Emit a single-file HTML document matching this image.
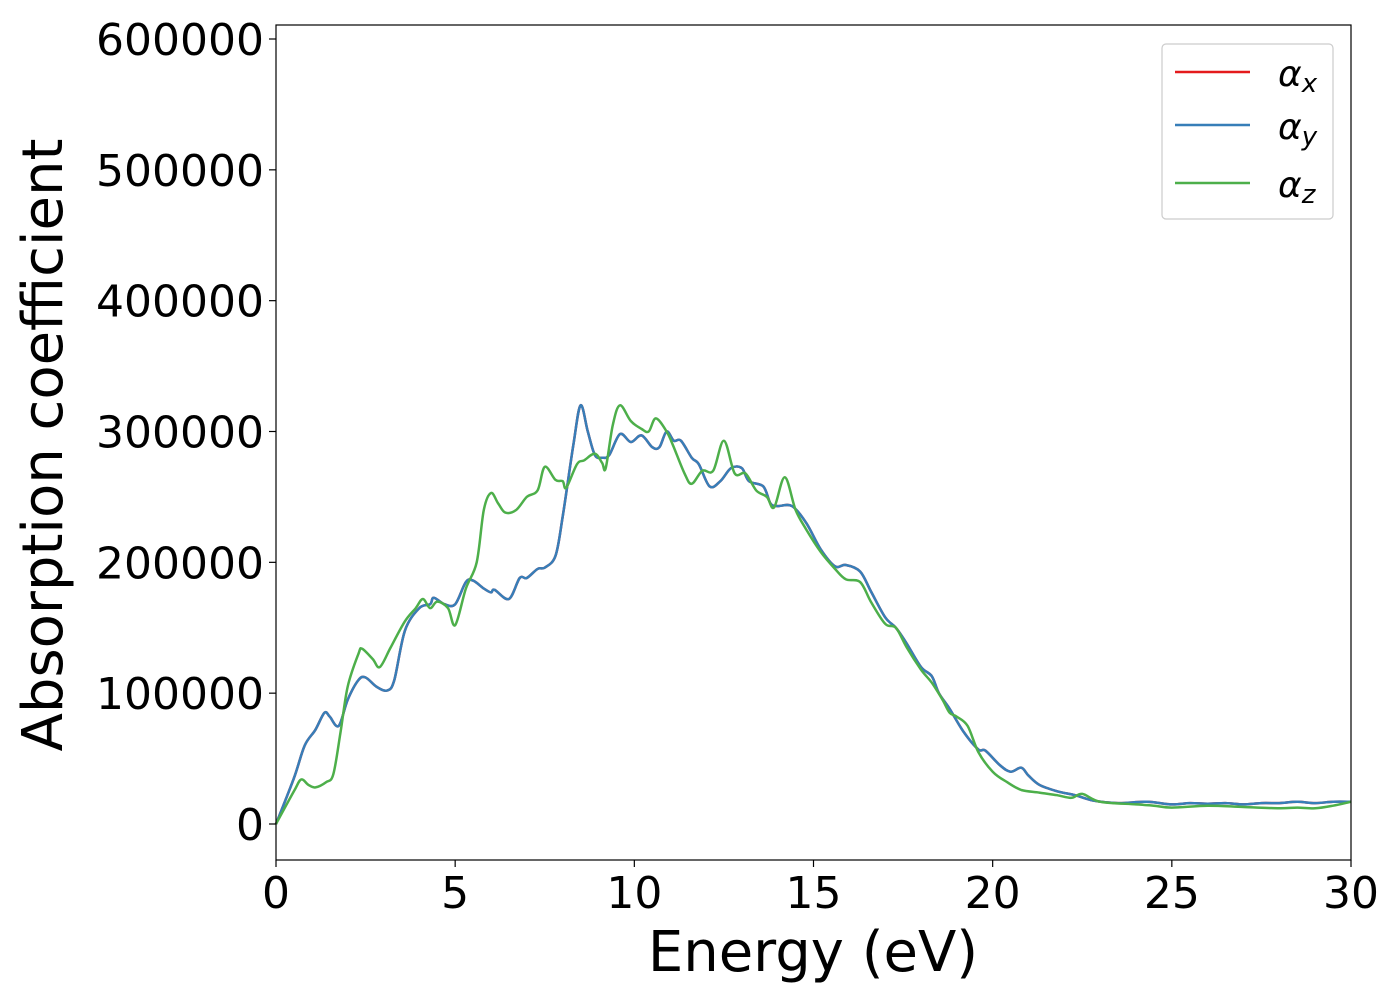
<!DOCTYPE html>
<html><head><meta charset="utf-8"><style>
html,body{margin:0;padding:0;background:#fff;}
svg text{font-family:"DejaVu Sans","Liberation Sans",sans-serif;}
</style></head><body>
<svg id="chart" width="1400" height="1000" xmlns="http://www.w3.org/2000/svg">
<rect x="0" y="0" width="1400" height="1000" fill="#fff"/>
<g id="series"></g>
<rect x="276" y="25" width="1075" height="835" fill="none" stroke="#000" stroke-width="1.2"/>
<g id="xticks"></g>
<g id="yticks"></g>
<text x="813" y="971" font-size="56" text-anchor="middle">Energy (eV)</text>
<text transform="translate(62,445) rotate(-90)" font-size="56" text-anchor="middle">Absorption coefficient</text>
<g>
<rect x="1162" y="44" width="171" height="175" rx="4" fill="#fff" stroke="#ccc" stroke-width="1.2"/>
<g>
<line x1="1175" y1="72" x2="1250" y2="72" stroke="#e41a1c" stroke-width="2.5"/>
<text x="1278" y="86" font-size="36" font-style="italic">α<tspan font-size="26" dy="6">x</tspan></text></g>
<g>
<line x1="1175" y1="125" x2="1250" y2="125" stroke="#377eb8" stroke-width="2.5"/>
<text x="1278" y="139" font-size="36" font-style="italic">α<tspan font-size="26" dy="6">y</tspan></text></g>
<g>
<line x1="1175" y1="183" x2="1250" y2="183" stroke="#4daf4a" stroke-width="2.5"/>
<text x="1278" y="197" font-size="36" font-style="italic">α<tspan font-size="26" dy="6">z</tspan></text></g>
</g>
</svg>
<script>
const xyEnergy=[0,0.5,0.8,1.1,1.35,1.5,1.75,2.0,2.3,2.5,2.8,3.1,3.3,3.6,4.0,4.3,4.4,4.7,5.0,5.3,5.5,5.8,6.0,6.1,6.5,6.8,7.0,7.3,7.5,7.8,8.0,8.3,8.5,8.7,8.9,9.1,9.3,9.6,9.9,10.2,10.5,10.7,10.9,11.1,11.3,11.6,11.8,12.1,12.4,12.7,13.0,13.2,13.6,13.8,14.0,14.4,14.8,15.2,15.6,15.9,16.3,16.6,17.0,17.3,17.6,18.0,18.3,18.5,18.8,19.2,19.6,19.8,20.2,20.5,20.8,21.0,21.3,21.8,22.3,22.8,23.5,24.3,25.0,25.5,26.0,26.5,27.0,27.5,28.0,28.5,29.0,29.5,30.0];
const alphaX=[0,35,60,72,85,82,75,95,110,112,105,102,110,148,165,168,173,168,168,185,186,180,177,179,172,188,188,195,196,205,235,290,320,300,282,280,282,298,292,297,288,288,300,293,293,280,275,258,262,272,272,262,258,245,243,243,230,210,197,198,193,178,158,150,138,120,113,100,88,70,57,56,45,40,43,37,30,25,22,18,16,17,15,16,15.5,16,15,16,16,17,16,17,17];
const alphaY=alphaX.slice();
const zEnergy=[0,0.5,0.7,0.9,1.1,1.4,1.6,1.8,2.0,2.3,2.4,2.7,2.9,3.2,3.6,3.9,4.1,4.3,4.5,4.8,5.0,5.3,5.6,5.8,6.0,6.2,6.4,6.7,7.0,7.3,7.5,7.8,8.0,8.1,8.4,8.6,8.9,9.1,9.2,9.4,9.6,9.9,10.2,10.4,10.6,10.9,11.1,11.4,11.6,11.9,12.2,12.5,12.8,13.1,13.4,13.7,13.9,14.2,14.5,14.8,15.2,15.6,15.9,16.3,16.6,17.0,17.3,17.6,18.0,18.3,18.6,18.8,19.0,19.3,19.6,20.0,20.4,20.8,21.3,21.8,22.2,22.5,23.0,24.0,24.5,25.0,26.0,27.0,28.0,28.5,29.0,29.5,30.0];
const alphaZ=[0,25,34,30,28,32,38,70,105,130,134,126,120,135,155,165,172,165,170,165,152,180,200,240,253,245,238,240,250,255,273,263,262,257,275,278,283,276,272,305,320,308,302,300,310,300,288,268,260,270,270,293,268,268,255,250,242,265,240,225,208,195,187,185,170,153,150,135,118,108,95,85,82,75,55,40,32,26,24,22,20,23,17,15,14,12.5,14,13,12,12.5,12,14,17];
const xTicks=[0,5,10,15,20,25,30];
const yTicks=[0,100000,200000,300000,400000,500000,600000];
const X0=276,X1=1351,XMIN=0,XMAX=30;
const Y0=824,YPER=785/600000;
function sx(v){return X0+(v-XMIN)/(XMAX-XMIN)*(X1-X0);}
function sy(v){return Y0-v*YPER;}
const NS="http://www.w3.org/2000/svg";
function pathFor(xs,ys){
  const p=xs.map((x,i)=>[sx(x),sy(ys[i]*1000)]);
  let d="M"+p[0][0].toFixed(1)+","+p[0][1].toFixed(1);
  for(let i=0;i<p.length-1;i++){
    const a=p[Math.max(0,i-1)],b=p[i],c=p[i+1],e=p[Math.min(p.length-1,i+2)];
    const c1=[b[0]+(c[0]-a[0])/6,b[1]+(c[1]-a[1])/6];
    const c2=[c[0]-(e[0]-b[0])/6,c[1]-(e[1]-b[1])/6];
    d+="C"+c1[0].toFixed(1)+","+c1[1].toFixed(1)+" "+c2[0].toFixed(1)+","+c2[1].toFixed(1)+" "+c[0].toFixed(1)+","+c[1].toFixed(1);
  }
  return d;
}
const g=document.getElementById("series");
const defs=[[xyEnergy,alphaX,"#e41a1c","series-alpha-x"],[xyEnergy,alphaY,"#377eb8","series-alpha-y"],[zEnergy,alphaZ,"#4daf4a","series-alpha-z"]];
defs.forEach(s=>{
  const el=document.createElementNS(NS,"path");
  el.setAttribute("d",pathFor(s[0],s[1]));
  el.setAttribute("fill","none");el.setAttribute("stroke",s[2]);el.setAttribute("stroke-width","2.5");
  el.setAttribute("stroke-linejoin","round");
  
  
  g.appendChild(el);
});
const xg=document.getElementById("xticks");
xTicks.forEach(t=>{
  const l=document.createElementNS(NS,"line");
  l.setAttribute("x1",sx(t));l.setAttribute("x2",sx(t));l.setAttribute("y1",860);l.setAttribute("y2",867);l.setAttribute("stroke","#000");l.setAttribute("stroke-width","1.2");
  
  
  xg.appendChild(l);
  const tx=document.createElementNS(NS,"text");
  tx.setAttribute("x",sx(t));tx.setAttribute("y",908);tx.setAttribute("font-size","44");tx.setAttribute("text-anchor","middle");
  tx.textContent=t;
  
  
  xg.appendChild(tx);
});
const yg=document.getElementById("yticks");
yTicks.forEach(t=>{
  const l=document.createElementNS(NS,"line");
  l.setAttribute("x1",269);l.setAttribute("x2",276);l.setAttribute("y1",sy(t));l.setAttribute("y2",sy(t));l.setAttribute("stroke","#000");l.setAttribute("stroke-width","1.2");
  
  
  yg.appendChild(l);
  const tx=document.createElementNS(NS,"text");
  tx.setAttribute("x",264);tx.setAttribute("y",sy(t)+16);tx.setAttribute("font-size","44");tx.setAttribute("text-anchor","end");
  tx.textContent=t;
  
  
  yg.appendChild(tx);
});
</script>
</body></html>
